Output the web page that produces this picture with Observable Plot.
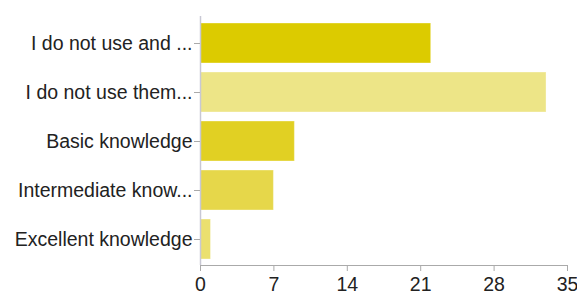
<!DOCTYPE html>
<html>
<head>
<meta charset="utf-8">
<script src="https://cdn.jsdelivr.net/npm/d3@7"></script>
<script src="https://cdn.jsdelivr.net/npm/@observablehq/plot@0.6"></script>
<style>
  html, body { margin: 0; padding: 0; background: #fff; }
  #chart svg { display: block; }
</style>
</head>
<body>
<div id="chart"></div>
<script>
const categories = [
  "I do not use and ...",
  "I do not use them...",
  "Basic knowledge",
  "Intermediate know...",
  "Excellent knowledge"
];
const values = [22, 33, 9, 7, 1];
const barColors = ["#dccb00", "#ede587", "#e1d023", "#e6d74a", "#ebe06f"];
const xTicks = [0, 7, 14, 21, 28, 35];

const data = categories.map((c, i) => ({category: c, value: values[i], color: barColors[i]}));

const chart = Plot.plot({
  width: 577,
  height: 293,
  marginLeft: 200,
  marginRight: 10,
  marginTop: 16,
  marginBottom: 28,
  style: {fontFamily: "'Liberation Sans', Arial, Helvetica, sans-serif", fontSize: "19.5px", color: "#222", background: "#fff"},
  x: {domain: [0, 35], ticks: xTicks},
  y: {domain: categories, paddingInner: 0.19, paddingOuter: 0.11},
  marks: [
    Plot.barX(data, {x: "value", y: "category", fill: "color", stroke: "#fff", strokeOpacity: 0.35, strokeWidth: 1, inset: 0}),
    Plot.ruleX([0], {stroke: "#c8c8d4", strokeWidth: 1.5}),
    Plot.frame({anchor: "bottom", stroke: "#aaa"}),
    Plot.axisX({ticks: xTicks, tickSize: 6, tickPadding: 6, stroke: "#aaa", fill: "#222", label: null, fontSize: "19.5px"}),
    Plot.axisY({tickSize: 6, tickPadding: 2, stroke: "#aaa", fill: "#222", label: null, fontSize: "19.5px"})
  ]
});
document.getElementById("chart").appendChild(chart);
</script>
</body>
</html>
